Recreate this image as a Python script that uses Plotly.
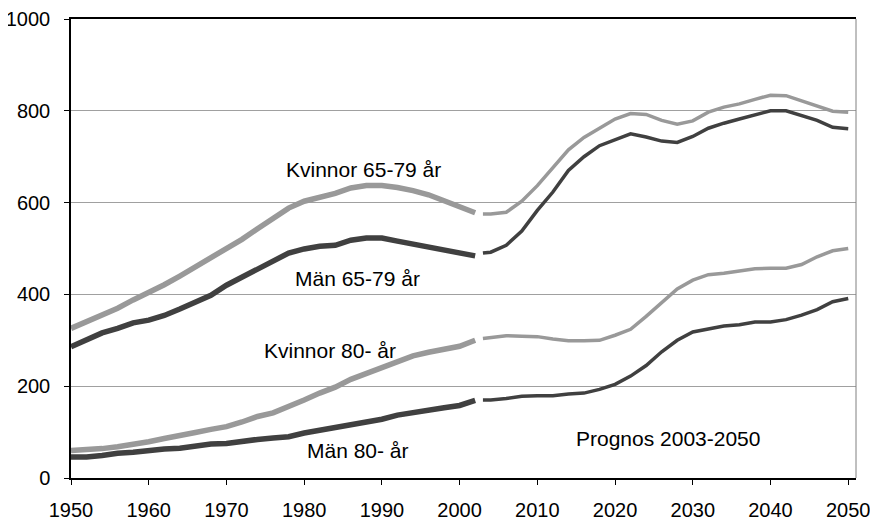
import plotly.graph_objects as go

# Historiska år (vartannat år) och prognosår
hist_years = [1950, 1952, 1954, 1956, 1958, 1960, 1962, 1964, 1966, 1968, 1970, 1972, 1974,
              1976, 1978, 1980, 1982, 1984, 1986, 1988, 1990, 1992, 1994, 1996, 1998, 2000, 2002]
prog_years = [2003, 2004, 2006, 2008, 2010, 2012, 2014, 2016, 2018, 2020, 2022, 2024, 2026,
              2028, 2030, 2032, 2034, 2036, 2038, 2040, 2042, 2044, 2046, 2048, 2050]

# Antal personer (tusental)
kvinnor_65_hist = [326, 340, 355, 370, 388, 404, 421, 440, 460, 478, 497, 520, 543,
                   567, 588, 603, 611, 620, 632, 637, 637, 633, 626, 617, 604, 592, 578]
man_65_hist = [286, 302, 316, 326, 338, 344, 354, 368, 383, 398, 420, 438, 455,
               475, 490, 499, 505, 507, 518, 523, 523, 516, 510, 504, 497, 490, 484]
kvinnor_80_hist = [60, 61, 64, 68, 72, 79, 86, 94, 99, 106, 112, 122, 134,
                   142, 155, 170, 185, 198, 215, 228, 241, 256, 266, 274, 282, 287, 300]
man_80_hist = [46, 46, 49, 54, 56, 60, 63, 65, 71, 74, 75, 80, 84,
               87, 90, 98, 104, 110, 114, 121, 128, 137, 143, 148, 153, 158, 169]

kvinnor_65_prog = [575, 575, 579, 603, 637, 675, 715, 742, 763, 782, 794, 792, 779,
                   771, 778, 797, 808, 815, 825, 834, 833, 822, 810, 799, 797]
man_65_prog = [490, 492, 507, 538, 583, 623, 670, 700, 724, 738, 750, 743, 734,
               731, 744, 762, 773, 782, 791, 800, 800, 790, 779, 764, 761]
kvinnor_80_prog = [304, 306, 310, 309, 308, 303, 299, 299, 300, 311, 324, 352, 383,
                   412, 431, 443, 446, 451, 456, 457, 457, 465, 482, 495, 500]
man_80_prog = [170, 170, 173, 178, 179, 179, 183, 185, 193, 204, 222, 245, 275,
               300, 318, 324, 331, 334, 340, 340, 345, 355, 367, 384, 391]

LIGHT = "#999999"
DARK = "#404040"
FONT = "Arial, Liberation Sans, sans-serif"

fig = go.Figure()

series = [
    (kvinnor_65_hist, kvinnor_65_prog, LIGHT),
    (man_65_hist, man_65_prog, DARK),
    (kvinnor_80_hist, kvinnor_80_prog, LIGHT),
    (man_80_hist, man_80_prog, DARK),
]
for hist, prog, col in series:
    fig.add_trace(go.Scatter(x=hist_years, y=hist, mode="lines",
                             line=dict(color=col, width=5.5), showlegend=False))
    fig.add_trace(go.Scatter(x=prog_years, y=prog, mode="lines",
                             line=dict(color=col, width=3.5), showlegend=False))

labels = [
    ("Kvinnor 65-79 år", 1987.6, 672),
    ("Män 65-79 år", 1986.8, 435),
    ("Kvinnor 80- år", 1983.3, 277),
    ("Män 80- år", 1986.9, 61),
    ("Prognos 2003-2050", 2026.8, 86),
]
for txt, xx, yy in labels:
    fig.add_annotation(x=xx, y=yy, text=txt, showarrow=False,
                       font=dict(family=FONT, size=21, color="black"))

# höger kant i grått
fig.add_shape(type="line", xref="paper", yref="paper", x0=1, x1=1, y0=0, y1=1,
              line=dict(color="#808080", width=1))

# sidan har 8 px marginal, så figuren görs 8 px mindre
fig.update_layout(
    width=870, height=513,
    margin=dict(l=63, r=22, t=11, b=43),
    plot_bgcolor="white", paper_bgcolor="white",
    font=dict(family=FONT, size=20, color="black"),
)
fig.update_xaxes(range=[1950, 2051], tickvals=list(range(1950, 2051, 10)),
                 showgrid=False, zeroline=False, showline=True, linecolor="black",
                 linewidth=1.5, mirror=True, ticks="outside", ticklen=5,
                 tickcolor="black", ticklabelstandoff=8, automargin=False)
fig.update_yaxes(range=[0, 1000], tickvals=list(range(0, 1001, 200)),
                 showgrid=True, gridcolor="#a0a0a0", gridwidth=1, zeroline=False,
                 showline=True, linecolor="black", linewidth=1.5, ticks="outside",
                 ticklen=5, tickcolor="black", ticklabelstandoff=10, automargin=False)

fig.write_html("out.html")
